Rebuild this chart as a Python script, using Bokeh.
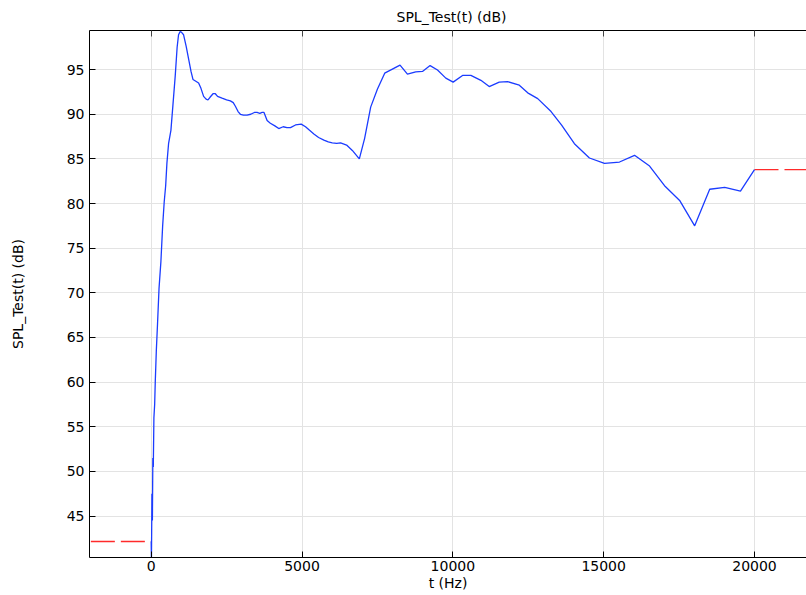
from bokeh.plotting import figure
from bokeh.models import LinearAxis, FixedTicker, Range1d
from bokeh.embed import file_html
from bokeh.resources import INLINE

# ---- data ----
freq = [0, 8, 25, 40, 55, 70, 90, 115, 135, 170, 210, 260, 322, 380, 432, 480,
        521, 576, 654, 720, 797, 860, 907, 960, 1000, 1074, 1160, 1240, 1320,
        1385, 1480, 1572, 1650, 1738, 1820, 1883, 1950, 2050, 2126, 2200, 2349,
        2500, 2625, 2720, 2791, 2880, 2957, 3060, 3179, 3300, 3420, 3511, 3600,
        3678, 3740, 3843, 3950, 4100, 4229, 4375, 4500, 4618, 4784, 4973, 5116,
        5250, 5393, 5550, 5725, 5870, 6003, 6150, 6279, 6478, 6668, 6900, 7076,
        7276, 7498, 7741, 8249, 8495, 8771, 8993, 9246, 9492, 9767, 10010,
        10322, 10598, 10930, 11206, 11538, 11817, 12203, 12482, 12814, 13256,
        13600, 14030, 14528, 15027, 15525, 16023, 16522, 17043, 17518, 18017,
        18515, 19013, 19535, 20000]
spl = [42.15, 39.8, 47.5, 44.5, 51.5, 50.5, 56.0, 57.5, 60.0, 63.5, 66.5, 70.5,
       73.5, 77.5, 80.2, 82.0, 84.5, 86.7, 88.2, 91.0, 94.3, 97.5, 98.9, 99.25,
       99.2, 98.9, 97.6, 96.2, 94.8, 93.9, 93.7, 93.5, 92.9, 92.0, 91.7, 91.6,
       91.9, 92.3, 92.3, 92.0, 91.8, 91.6, 91.5, 91.3, 90.9, 90.3, 90.0, 89.9,
       89.9, 90.0, 90.2, 90.2, 90.1, 90.2, 90.2, 89.3, 89.0, 88.7, 88.4, 88.6,
       88.5, 88.5, 88.8, 88.9, 88.6, 88.2, 87.8, 87.4, 87.1, 86.9, 86.8, 86.75,
       86.8, 86.55, 85.95, 85.0, 87.3, 90.8, 92.8, 94.6, 95.5, 94.5, 94.75,
       94.8, 95.45, 94.95, 94.05, 93.6, 94.35, 94.35, 93.8, 93.1, 93.6, 93.65,
       93.25, 92.4, 91.75, 90.3, 88.8, 86.7, 85.1, 84.5, 84.65, 85.4, 84.2,
       81.9, 80.35, 77.5, 81.6, 81.8, 81.4, 83.8]

x_ticks = [0, 5000, 10000, 15000, 20000]
y_ticks = [45, 50, 55, 60, 65, 70, 75, 80, 85, 90, 95]
x_start, x_end = -2045, 21724
y_start, y_end = 40.36, 99.38
extrap_start = -2000

FONT = "DejaVu Sans"

p = figure(width=806, height=595, output_backend="svg", toolbar_location=None,
           x_range=Range1d(x_start, x_end), y_range=Range1d(y_start, y_end),
           min_border_left=89, min_border_right=0, min_border_top=29,
           min_border_bottom=38)
p.outline_line_color = None
p.background_fill_color = "white"
p.border_fill_color = "white"

p.title.text = "SPL_Test(t) (dB)"
p.title.align = "left"
p.title.text_font = FONT
p.title.text_font_size = "14px"
p.title.text_font_style = "normal"
p.title.text_color = "black"
p.title.standoff = 12
p.title.offset = 307

for ax in (p.xaxis[0], p.yaxis[0]):
    ax.major_tick_in = 6
    ax.major_tick_out = 0
    ax.minor_tick_in = 0
    ax.minor_tick_out = 0
    ax.axis_line_color = "black"
    ax.major_tick_line_color = "black"
    ax.major_label_text_font = FONT
    ax.major_label_text_font_size = "14px"
    ax.major_label_text_color = "black"
    ax.axis_label_text_font = FONT
    ax.axis_label_text_font_size = "14px"
    ax.axis_label_text_font_style = "normal"
    ax.axis_label_text_color = "black"

p.xaxis.ticker = FixedTicker(ticks=x_ticks)
p.yaxis.ticker = FixedTicker(ticks=y_ticks)
p.xaxis.axis_label = "t (Hz)"
p.yaxis.axis_label = "SPL_Test(t) (dB)"
p.xaxis.major_label_standoff = 3
p.xaxis.axis_label_standoff = 1
p.yaxis.major_label_standoff = 5
p.yaxis.axis_label_standoff = 38

top = LinearAxis(ticker=FixedTicker(ticks=x_ticks), major_tick_in=6,
                 major_tick_out=0, minor_tick_in=0, minor_tick_out=0,
                 major_label_text_font_size="1px", major_label_text_color=None,
                 major_label_standoff=0,
                 axis_line_color="black", major_tick_line_color="#444444")
p.add_layout(top, "above")

p.xgrid.grid_line_color = "#e3e3e3"
p.ygrid.grid_line_color = "#e3e3e3"
p.xgrid.grid_line_width = 1
p.ygrid.grid_line_width = 1

# extrapolated constant ends (dashed red)
p.line([extrap_start, freq[0]], [spl[0], spl[0]], line_color="#ff2a2a",
       line_width=1.4, line_dash="24 6")
p.line([freq[-1], x_end], [spl[-1], spl[-1]], line_color="#ff2a2a",
       line_width=1.4, line_dash="24 6")

p.line(freq, spl, line_color="#1b3cff", line_width=1.3)

open("out.html", "w").write(file_html(p, INLINE))
